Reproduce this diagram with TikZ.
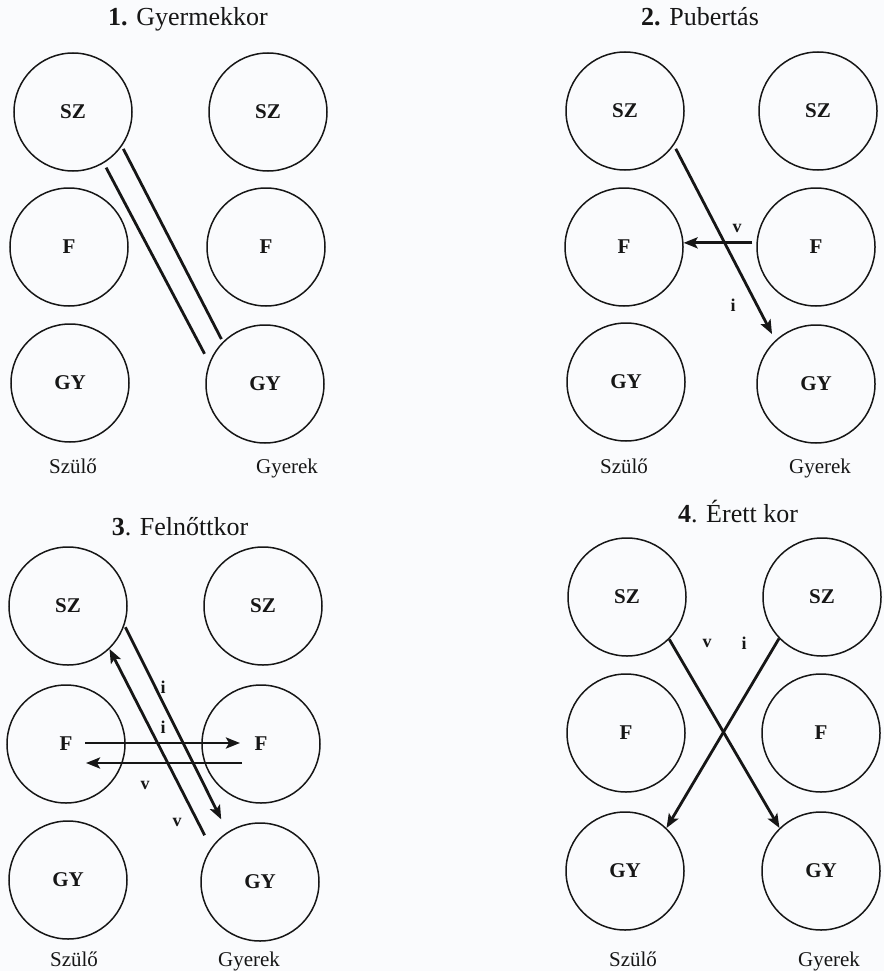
\documentclass[tikz,border=0pt]{standalone}
\usepackage{fontspec}
\setmainfont{Liberation Serif}
\usetikzlibrary{arrows.meta}

\definecolor{paper}{RGB}{250,251,253}
\definecolor{ink}{RGB}{22,22,22}

\tikzset{
  person/.style={circle, draw=ink, line width=1.5pt, minimum size=118pt, inner sep=0pt,
                 text=ink, font=\bfseries\fontsize{21}{21}\selectfont},
  link/.style={draw=ink, line width=2.8pt},
  arr/.style={link, -{Stealth[length=14pt,width=11pt,inset=3pt]}},
  tag/.style={text=ink, font=\bfseries\fontsize{18}{18}\selectfont},
  heading/.style={anchor=base, text=ink, font=\fontsize{26}{26}\selectfont},
  side/.style={anchor=base, text=ink, font=\fontsize{21}{21}\selectfont}
}

\begin{document}
\begin{tikzpicture}[x=1pt, y=-1pt]
\fill[paper] (0,0) rectangle (884,971);
\useasboundingbox (0,0) rectangle (884,971);

% ---------- 1. Gyermekkor ----------
\node[heading] (t1) at (188,26) {\textbf{1.} Gyermekkor};
\node[person] (a-sl) at (73,112) {SZ};
\node[person] (a-sr) at (268,112) {SZ};
\node[person] (a-fl) at (69,247) {F};
\node[person] (a-fr) at (266,247) {F};
\node[person] (a-gl) at (70,383) {GY};
\node[person] (a-gr) at (265,384) {GY};
\node[side] (a-l) at (73,473) {Szülő};
\node[side] (a-r) at (287,473) {Gyerek};
\draw[link, shorten <=3pt, shorten >=3pt] (a-sl.-35) -- (a-gr.135);
\draw[link, shorten <=5pt, shorten >=10pt] (a-sl.-59) -- (a-gr.159);

% ---------- 2. Pubertás ----------
\node[heading] (t2) at (700,26) {\textbf{2.} Pubertás};
\node[person] (b-sl) at (625,111) {SZ};
\node[person] (b-sr) at (818,111) {SZ};
\node[person] (b-fl) at (624,247) {F};
\node[person] (b-fr) at (816,247) {F};
\node[person] (b-gl) at (626,382) {GY};
\node[person] (b-gr) at (816,384) {GY};
\node[side] (b-l) at (624,473) {Szülő};
\node[side] (b-r) at (820,473) {Gyerek};
\draw[arr, shorten <=4pt, shorten >=7pt] (b-sl.-35) -- (b-gr.133);
\draw[arr, shorten <=4pt] (b-fr.176) -- (b-fl.4);
\node[tag] (b-v) at (737,228) {v};
\node[tag] (b-i) at (733,305) {i};

% ---------- 3. Felnőttkor ----------
\node[heading] (t3) at (180,535) {\textbf{3}. Felnőttkor};
\node[person] (c-sl) at (68,606) {SZ};
\node[person] (c-sr) at (263,606) {SZ};
\node[person] (c-fl) at (66,744) {F};
\node[person] (c-fr) at (261,744) {F};
\node[person] (c-gl) at (68,880) {GY};
\node[person] (c-gr) at (260,882) {GY};
\node[side] (c-l) at (74,966) {Szülő};
\node[side] (c-r) at (249,966) {Gyerek};
\draw[arr, shorten <=2pt, shorten >=14pt] (c-sl.-19) -- (c-gr.123);
\draw[arr, shorten <=14pt] (c-gr.145) -- (c-sl.-46);
\draw[arr, shorten <=19pt, shorten >=21pt]
  ([yshift=1pt]c-fl.center) -- ([yshift=1pt]c-fr.center);
\draw[arr, shorten <=19pt, shorten >=20pt]
  ([yshift=-19pt]c-fr.center) -- ([yshift=-19pt]c-fl.center);
\node[tag] (c-i1) at (163,687) {i};
\node[tag] (c-i2) at (163,727) {i};
\node[tag] (c-v1) at (145,785) {v};
\node[tag] (c-v2) at (177,822) {v};

% ---------- 4. Érett kor ----------
\node[heading] (t4) at (738,522) {\textbf{4}. Érett kor};
\node[person] (d-sl) at (627,597) {SZ};
\node[person] (d-sr) at (822,597) {SZ};
\node[person] (d-fl) at (626,733) {F};
\node[person] (d-fr) at (821,733) {F};
\node[person] (d-gl) at (625,871) {GY};
\node[person] (d-gr) at (821,871) {GY};
\node[side] (d-l) at (633,966) {Szülő};
\node[side] (d-r) at (829,966) {Gyerek};
\draw[arr] (d-sl.-45) -- (d-gr.134);
\draw[arr] (d-sr.-136) -- (d-gl.46);
\node[tag] (d-v) at (707,643) {v};
\node[tag] (d-i) at (744,643) {i};
\end{tikzpicture}
\end{document}
